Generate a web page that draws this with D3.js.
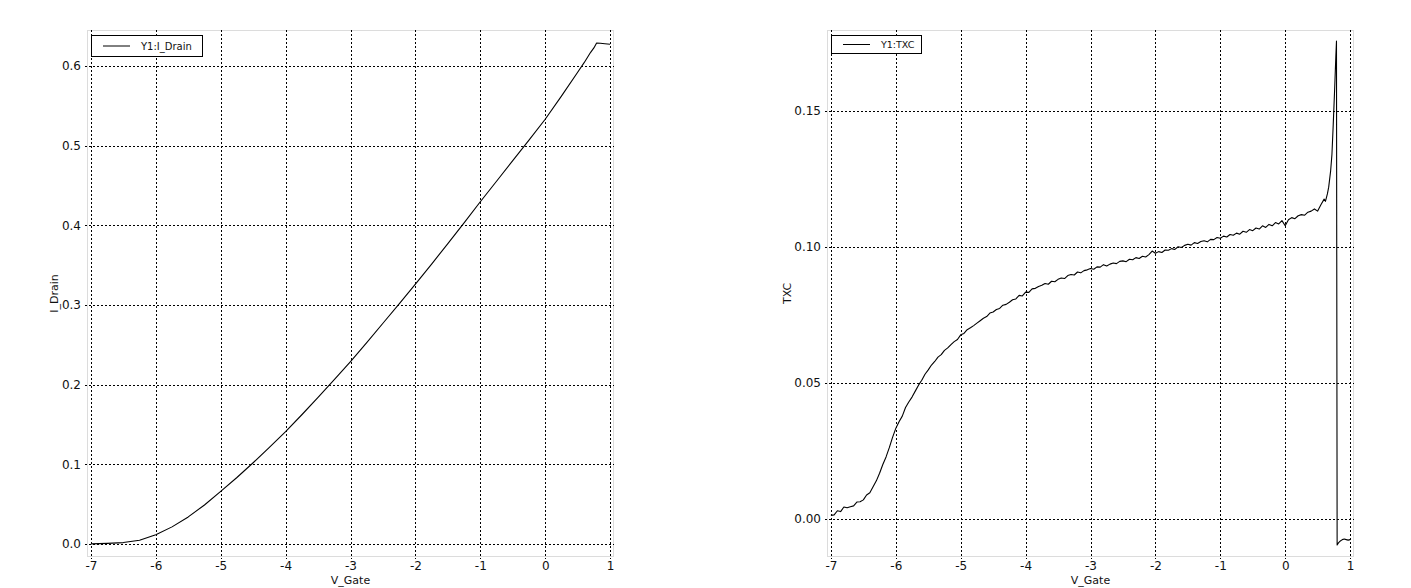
<!DOCTYPE html>
<html>
<head>
<meta charset="utf-8">
<script src="https://cdn.jsdelivr.net/npm/d3@7"></script>
<style>
  html, body { margin: 0; padding: 0; background: #fff; }
  svg { display: block; font-family: "DejaVu Sans", sans-serif; }
</style>
</head>
<body>
<svg id="chart" width="1411" height="588"></svg>
<script>
// ---------- data ----------
const xTicks = [-7, -6, -5, -4, -3, -2, -1, 0, 1];
const drainTicks = [0, 0.1, 0.2, 0.3, 0.4, 0.5, 0.6];
const txcTicks = [0, 0.05, 0.10, 0.15];

const drainV = [-7.0, -6.75, -6.5, -6.25, -6.0, -5.75, -5.5, -5.25, -5.0, -4.75, -4.5, -4.25, -4.0,
  -3.75, -3.5, -3.25, -3.0, -2.75, -2.5, -2.25, -2.0, -1.75, -1.5, -1.25, -1.0, -0.75, -0.5, -0.25,
  0.0, 0.25, 0.5, 0.6, 0.7, 0.75, 0.79, 0.85, 0.92, 1.0];
const drainI = [0.0002, 0.0008, 0.0018, 0.0048, 0.0115, 0.0215, 0.0340, 0.0490, 0.0660, 0.0835, 0.1020, 0.1212, 0.1410,
  0.1622, 0.1840, 0.2062, 0.2290, 0.2528, 0.2770, 0.3013, 0.3260, 0.3513, 0.3770, 0.4030, 0.4295, 0.4552, 0.4810, 0.5068,
  0.5330, 0.5620, 0.5920, 0.6040, 0.6170, 0.6225, 0.6285, 0.6283, 0.6278, 0.6272];

const txcV = [-7.00, -6.95, -6.90, -6.85, -6.80, -6.75, -6.70, -6.65, -6.60, -6.55, -6.50, -6.45, -6.40, -6.35,
  -6.30, -6.25, -6.20, -6.15, -6.10, -6.05, -6.00, -5.95, -5.90, -5.85, -5.80, -5.75, -5.70, -5.65, -5.60, -5.55,
  -5.50, -5.45, -5.40, -5.35, -5.30, -5.25, -5.20, -5.15, -5.10, -5.05, -5.00, -4.95, -4.90, -4.85, -4.80, -4.75,
  -4.70, -4.65, -4.60, -4.55, -4.50, -4.45, -4.40, -4.35, -4.30, -4.25, -4.20, -4.15, -4.10, -4.05, -4.00, -3.95,
  -3.90, -3.85, -3.80, -3.75, -3.70, -3.65, -3.60, -3.55, -3.50, -3.45, -3.40, -3.35, -3.30, -3.25, -3.20, -3.15,
  -3.10, -3.05, -3.00, -2.95, -2.90, -2.85, -2.80, -2.75, -2.70, -2.65, -2.60, -2.55, -2.50, -2.45, -2.40, -2.35,
  -2.30, -2.25, -2.20, -2.15, -2.10, -2.05, -2.00, -1.95, -1.90, -1.85, -1.80, -1.75, -1.70, -1.65, -1.60, -1.55,
  -1.50, -1.45, -1.40, -1.35, -1.30, -1.25, -1.20, -1.15, -1.10, -1.05, -1.00, -0.95, -0.90, -0.85, -0.80, -0.75,
  -0.70, -0.65, -0.60, -0.55, -0.50, -0.45, -0.40, -0.35, -0.30, -0.25, -0.20, -0.15, -0.10, -0.05, 0.00, 0.05,
  0.10, 0.15, 0.20, 0.25, 0.30, 0.35, 0.40, 0.45, 0.50, 0.55, 0.60, 0.62, 0.65, 0.67, 0.70, 0.72, 0.74, 0.76,
  0.78, 0.79, 0.80, 0.82, 0.85, 0.88, 0.91, 0.94, 0.97, 1.00];
const txcVal = [0.0013, 0.0015, 0.0030, 0.0027, 0.0044, 0.0041, 0.0045, 0.0048, 0.0062, 0.0063, 0.0070, 0.0088, 0.0096, 0.0118,
  0.0140, 0.0168, 0.0200, 0.0228, 0.0262, 0.0300, 0.0333, 0.0357, 0.0378, 0.0410, 0.0430, 0.0448, 0.0470, 0.0492, 0.0510, 0.0532,
  0.0548, 0.0566, 0.0579, 0.0595, 0.0604, 0.0620, 0.0629, 0.0641, 0.0652, 0.0660, 0.0677, 0.0682, 0.0696, 0.0703, 0.0711, 0.0720,
  0.0729, 0.0738, 0.0744, 0.0757, 0.0761, 0.0770, 0.0774, 0.0786, 0.0789, 0.0797, 0.0806, 0.0809, 0.0822, 0.0820, 0.0834, 0.0833,
  0.0846, 0.0848, 0.0855, 0.0859, 0.0866, 0.0863, 0.0874, 0.0872, 0.0881, 0.0886, 0.0884, 0.0895, 0.0899, 0.0897, 0.0908, 0.0905,
  0.0913, 0.0916, 0.0921, 0.0918, 0.0927, 0.0926, 0.0935, 0.0930, 0.0937, 0.0941, 0.0939, 0.0947, 0.0949, 0.0946, 0.0955, 0.0953,
  0.0961, 0.0958, 0.0966, 0.0963, 0.0972, 0.0985, 0.0977, 0.0983, 0.0980, 0.0989, 0.0988, 0.0994, 0.0991, 0.1001, 0.0998, 0.1006,
  0.1010, 0.1007, 0.1016, 0.1013, 0.1020, 0.1023, 0.1019, 0.1028, 0.1027, 0.1035, 0.1032, 0.1040, 0.1037, 0.1046, 0.1043, 0.1051,
  0.1047, 0.1058, 0.1054, 0.1064, 0.1060, 0.1070, 0.1066, 0.1078, 0.1072, 0.1083, 0.1078, 0.1090, 0.1085, 0.1097, 0.1078, 0.1100,
  0.1108, 0.1104, 0.1115, 0.1119, 0.1117, 0.1128, 0.1132, 0.1140, 0.1132, 0.1155, 0.1176, 0.1168, 0.1195, 0.1220, 0.1280, 0.1340, 0.1450, 0.1570,
  0.1700, 0.1757, -0.0096, -0.0088, -0.0081, -0.0076, -0.0074, -0.0076, -0.0078, -0.0076];

// ---------- drawing ----------
const svg = d3.select("#chart");
svg.append("rect").attr("width", 1411).attr("height", 588).attr("fill", "#fff");

function panel(cfg) {
  const x = d3.scaleLinear().domain(cfg.xDomain).range(cfg.xRange);
  const y = d3.scaleLinear().domain(cfg.yDomain).range([557, 30]);
  const [x0, x1] = x.range();
  const [y0, y1] = y.range();
  const g = svg.append("g");

  // frame
  g.append("rect")
    .attr("x", x0 + 0.5).attr("y", y1 + 0.5)
    .attr("width", x1 - x0 - 1).attr("height", y0 - y1 - 1)
    .attr("fill", "none").attr("stroke", "#dcdcdc").attr("stroke-width", 1);

  // grid
  g.selectAll(".vg").data(xTicks).enter().append("line")
    .attr("x1", d => Math.round(x(d)) + 0.5).attr("x2", d => Math.round(x(d)) + 0.5)
    .attr("y1", y1).attr("y2", y0 + 2)
    .attr("stroke", "#000").attr("stroke-dasharray", "2,2").attr("stroke-width", 1);
  g.selectAll(".hg").data(cfg.yTicks).enter().append("line")
    .attr("y1", d => Math.round(y(d)) + 0.5).attr("y2", d => Math.round(y(d)) + 0.5)
    .attr("x1", x0 - 2).attr("x2", x1)
    .attr("stroke", "#000").attr("stroke-dasharray", "2,2").attr("stroke-width", 1);

  // axes (labels)
  const ax = g.append("g").attr("transform", `translate(0,${y0})`)
    .call(d3.axisBottom(x).tickValues(xTicks).tickSize(0).tickPadding(4).tickFormat(d => String(d)));
  ax.select(".domain").remove();
  ax.selectAll("text").attr("font-size", 12).attr("fill", "#111").attr("font-family", "DejaVu Sans");

  const ay = g.append("g").attr("transform", `translate(${x0},0)`)
    .call(d3.axisLeft(y).tickValues(cfg.yTicks).tickSize(0).tickPadding(6).tickFormat(d3.format(cfg.yFmt)));
  ay.select(".domain").remove();
  ay.selectAll("text").attr("font-size", 12).attr("fill", "#111").attr("font-family", "DejaVu Sans");

  // axis titles
  g.append("text").attr("x", (x0 + x1) / 2).attr("y", 584)
    .attr("text-anchor", "middle").attr("font-size", 11).attr("fill", "#111").text("V_Gate");
  g.append("text").attr("transform", `translate(${x0 - cfg.yLabOff},${(y0 + y1) / 2}) rotate(-90)`)
    .attr("text-anchor", "middle").attr("font-size", 11).attr("fill", "#111").text(cfg.yLabel);

  // line
  const pts = cfg.xs.map((v, i) => [v, cfg.ys[i]]);
  g.append("path").datum(pts)
    .attr("fill", "none").attr("stroke", "#000").attr("stroke-width", 1.1)
    .attr("stroke-linejoin", "round")
    .attr("d", d3.line().x(d => x(d[0])).y(d => y(d[1])));

  // legend
  const lg = g.append("g");
  lg.append("rect").attr("x", x0 + 4.5).attr("y", 35.5)
    .attr("width", cfg.legW).attr("height", cfg.legH)
    .attr("fill", "#fff").attr("stroke", "#000").attr("stroke-width", 1);
  lg.append("line").attr("x1", x0 + 16).attr("x2", x0 + 43)
    .attr("y1", 35.5 + cfg.legH / 2).attr("y2", 35.5 + cfg.legH / 2)
    .attr("stroke", "#000").attr("stroke-width", 1);
  lg.append("text").attr("x", x0 + 54).attr("y", 35.5 + cfg.legH / 2 + 3.5)
    .attr("font-size", cfg.legFont).attr("fill", "#111").text(cfg.legText);
}

panel({
  xDomain: [-7.06, 1.06], xRange: [87, 614],
  yDomain: [-0.0163, 0.645], yTicks: drainTicks, yFmt: ".1f",
  yLabel: "I_Drain", yLabOff: 29, xs: drainV, ys: drainI,
  legW: 111, legH: 21, legFont: 10, legText: "Y1:I_Drain"
});
panel({
  xDomain: [-7.06, 1.06], xRange: [827, 1354],
  yDomain: [-0.014, 0.1798], yTicks: txcTicks, yFmt: ".2f",
  yLabel: "TXC", yLabOff: 36, xs: txcV, ys: txcVal,
  legW: 90, legH: 18, legFont: 9.5, legText: "Y1:TXC"
});
</script>
</body>
</html>
